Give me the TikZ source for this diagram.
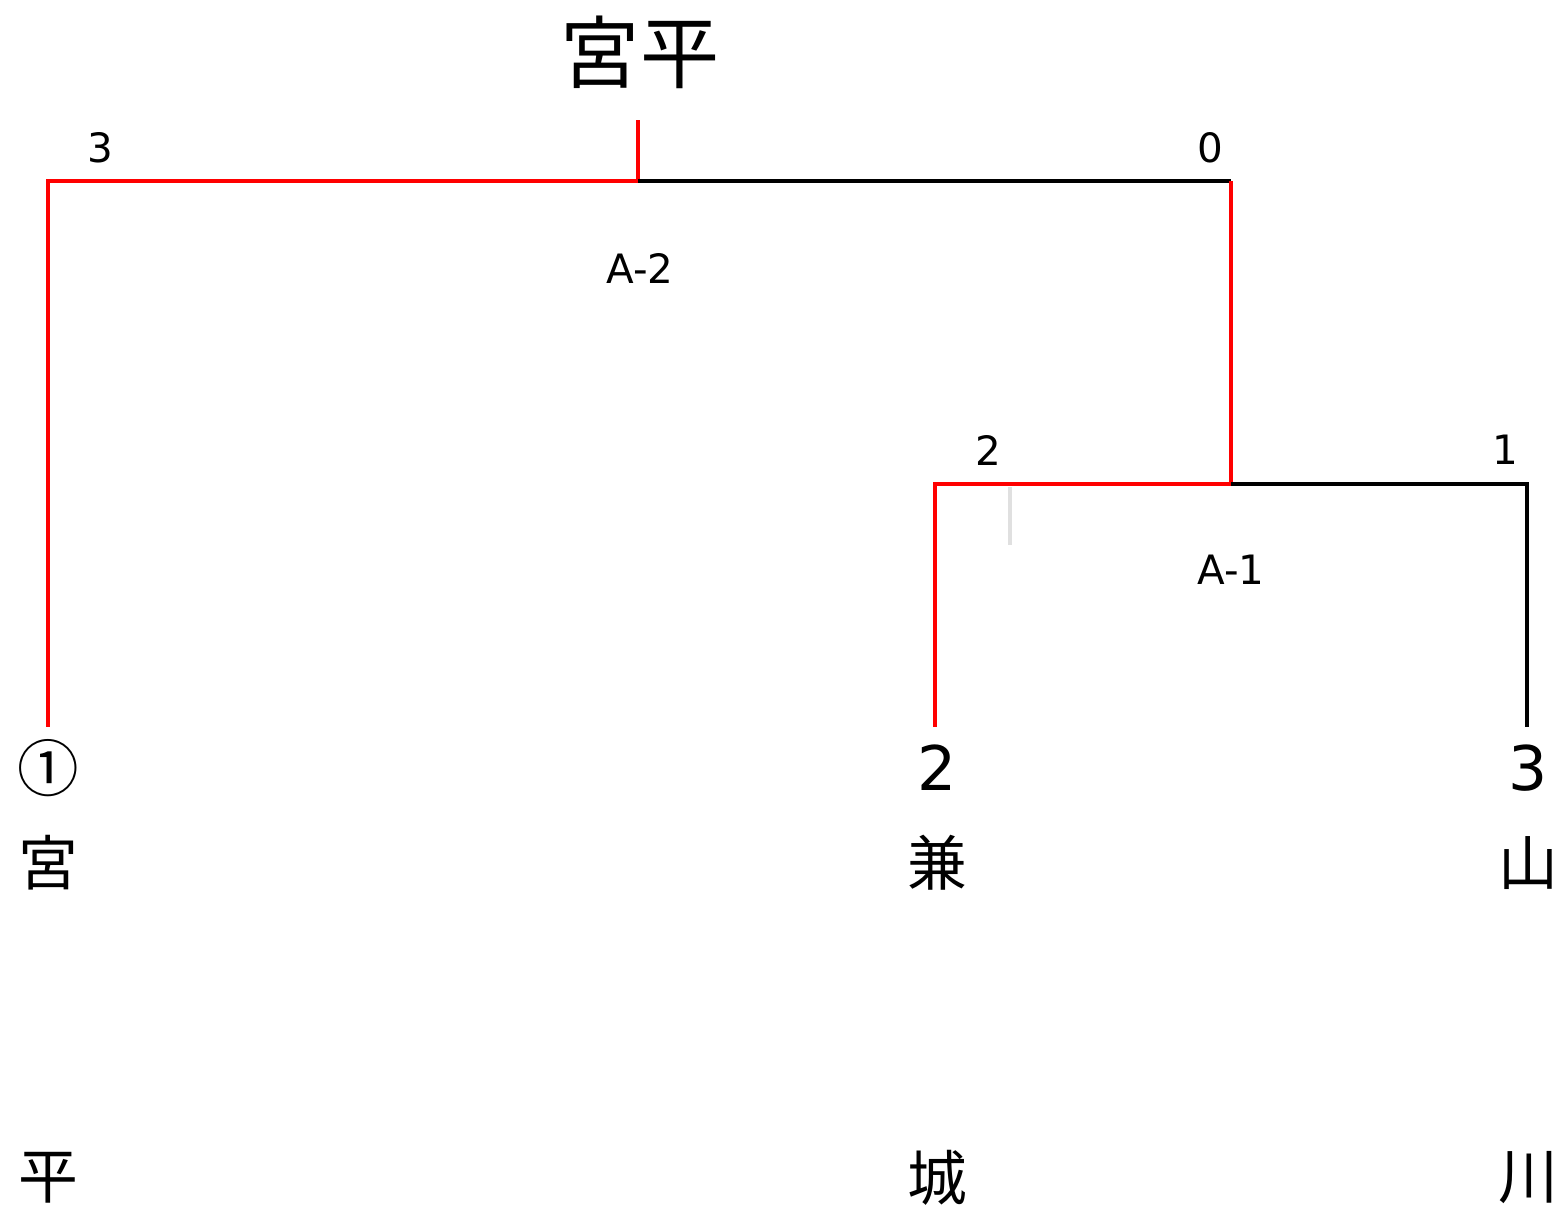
\documentclass[tikz,border=0pt]{standalone}
\usepackage{fontspec}
\setmainfont{DejaVu Sans}
\newfontfamily\cjk{Noto Sans CJK JP}
\usepackage{tikz}
\usetikzlibrary{positioning}

\tikzset{
  win/.style={draw=red, line width=1pt},
  lose/.style={draw=black, line width=1pt},
  score/.style={font=\fontsize{11.5}{12}\selectfont, inner sep=0pt},
  seed/.style={font=\fontsize{17.5}{18}\selectfont, inner sep=0pt},
  team/.style={font=\cjk\fontsize{17}{18}\selectfont, inner sep=0pt}
}

\begin{document}
\begin{tikzpicture}[x=0.01cm, y=-0.01cm]
    \useasboundingbox (0,0) rectangle (1563,1205);

    % Bracket corners
    \coordinate (top) at (638,120);
    \coordinate (fm) at (638,181);
    \coordinate (fl) at (48,181);
    \coordinate (fr) at (1231,181);
    \coordinate (sm) at (1231,484);
    \coordinate (sl) at (935,484);
    \coordinate (sr) at (1527,484);
    \coordinate (e1) at (48,727);
    \coordinate (e2) at (935,727);
    \coordinate (e3) at (1527,727);

    % Winner title
    \node[team, font=\cjk\fontsize{22.5}{23}\selectfont] (champ) at (640,52) {宮平};

    % Final
    \draw[win] (top) -- (fm) -- (fl) -- (e1);
    \draw[lose] (fm) -- (fr);
    \draw[win] (fr) -- (sm);

    % Semi
    \draw[win] (sm) -- (sl) -- (e2);
    \draw[lose] (sm) -- (sr) -- (e3);
    \draw[line width=1pt, draw=black!12] (1010,487) -- (1010,545);

    % Scores and game labels
    \foreach \n/\x/\y/\t in {s1/100/148/3, s2/1210/148/0, s3/988/450/2, s4/1505/450/1, g2/640/268/A-2, g1/1231/570/A-1} {
      \node[score] (\n) at (\x,\y) {\t};
    }

    % Entries
    \foreach \n/\x/\s/\a/\b in {t1/48/{\cjk ①}/宮/平, t2/937/2/兼/城, t3/1528/3/山/川} {
      \node[seed] (\n) at (\x,768) {\s};
      \node[team] (\n a) at (\x,863) {\a};
      \node[team] (\n b) at (\x,1178) {\b};
    }

\end{tikzpicture}
\end{document}
